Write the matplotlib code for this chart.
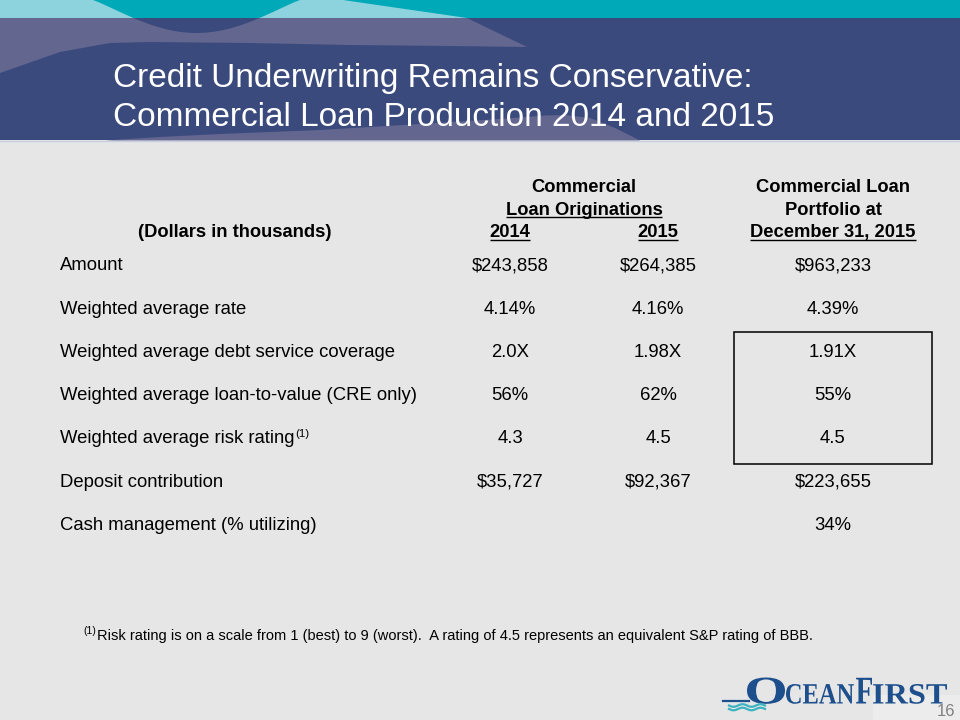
import matplotlib
matplotlib.use("Agg")
import matplotlib.pyplot as plt
from matplotlib.patches import Polygon, Rectangle, PathPatch
from matplotlib.textpath import TextPath
from matplotlib.font_manager import FontProperties
from matplotlib.transforms import Affine2D
import numpy as np

# ---------------- data ----------------
title_lines = ["Credit Underwriting Remains Conservative:",
               "Commercial Loan Production 2014 and 2015"]
units_label = "(Dollars in thousands)"
group_header_orig = ["Commercial", "Loan Originations"]
group_header_port = ["Commercial Loan", "Portfolio at", "December 31, 2015"]
col_years = ["2014", "2015"]
row_labels = ["Amount",
              "Weighted average rate",
              "Weighted average debt service coverage",
              "Weighted average loan-to-value (CRE only)",
              "Weighted average risk rating",
              "Deposit contribution",
              "Cash management (% utilizing)"]
label_notes = ["", "", "", "", "(1)", "", ""]
orig_2014 = ["$243,858", "4.14%", "2.0X", "56%", "4.3", "$35,727", ""]
orig_2015 = ["$264,385", "4.16%", "1.98X", "62%", "4.5", "$92,367", ""]
portfolio = ["$963,233", "4.39%", "1.91X", "55%", "4.5", "$223,655", "34%"]
boxed_rows = [2, 3, 4]
footnote_mark = "(1)"
footnote = ("Risk rating is on a scale from 1 (best) to 9 (worst).  "
            "A rating of 4.5 represents an equivalent S&P rating of BBB.")
logo_parts = [("O", True), ("CEAN", False), ("F", True), ("IRST", False)]
page_number = "16"

# ---------------- style ----------------
SANS = "Liberation Sans"
SERIF = "Liberation Serif"
NAVY = "#3b4a7d"
PURPLE = "#63668f"
TEAL = "#00a9b8"
LTEAL = "#8dd3dd"
BG = "#e6e6e6"
LOGO_BLUE = "#1d4f8d"
LOGO_TEAL = "#3db3c2"

fig = plt.figure(figsize=(9.6, 7.2), dpi=100, facecolor=BG)
ax = fig.add_axes([0, 0, 1, 1])
ax.set_xlim(0, 960)
ax.set_ylim(720, 0)
ax.axis("off")
ax.set_facecolor(BG)

# ---------------- header band ----------------
ax.add_patch(Rectangle((0, 0), 960, 140, color=NAVY, lw=0, zorder=1))
top_purple = [(0, 18), (467, 18), (527, 47), (450, 46), (350, 45), (250, 43),
              (150, 42), (110, 43), (60, 52), (0, 73)]
ax.add_patch(Polygon(top_purple, closed=True, color=PURPLE, lw=0, zorder=2))
bx = np.linspace(0, 1, 40)
bottom_wave = [(105, 140.5), (160, 137), (220, 134), (320, 130), (420, 124),
               (500, 119), (545, 115.5), (565, 115), (590, 118), (615, 128),
               (640, 140.5)]
ax.add_patch(Polygon(bottom_wave, closed=True, color=PURPLE, lw=0, zorder=2))
# bulge
xs = 93 + bx * 207
ys = 33 * np.sin(np.pi * bx) ** 1.1
bulge = list(zip(xs, ys))
ax.add_patch(Polygon(bulge, closed=True, color=NAVY, lw=0, zorder=3))
ax.add_patch(Rectangle((0, 0), 960, 18, color=TEAL, lw=0, zorder=4))
ax.add_patch(Polygon([(0, 0), (343, 0), (467, 18), (0, 18)], closed=True,
                     color=LTEAL, lw=0, zorder=5))
clip = Rectangle((0, 0), 960, 18, transform=ax.transData)
bp = Polygon(bulge, closed=True, color=TEAL, lw=0, zorder=6)
ax.add_patch(bp)
bp.set_clip_path(clip)
ax.plot([0, 960], [140.8, 140.8], color="#c9cde0", lw=1.0, zorder=7)

for i, line in enumerate(title_lines):
    ax.text(113, 87.5 + 38 * i, line, color="white", fontsize=24,
            family=SANS, va="baseline", ha="left", zorder=8)

# ---------------- table ----------------
fig.canvas.draw()
renderer = fig.canvas.get_renderer()
inv = ax.transData.inverted()


def extent(t):
    bb = t.get_window_extent(renderer)
    return bb.transformed(inv)


def underline(t, y):
    bb = extent(t)
    ax.plot([bb.x0, bb.x1], [y, y], color="black", lw=1.0,
            solid_capstyle="butt", zorder=9)


HB = [192.3, 214.6, 237.0]   # header baselines
c14, c15, cport, cgrp = 510, 658, 833, 584
hfs = 13.2
hkw = dict(fontsize=hfs, family=SANS, weight="bold", va="baseline",
           ha="center", color="black", parse_math=False)

ax.text(cgrp, HB[0], group_header_orig[0], **hkw)
t = ax.text(cgrp, HB[1], group_header_orig[1], **hkw)
underline(t, HB[1] + 2.8)
ax.text(235, HB[2], units_label, **hkw)
for cx, yr in zip([c14, c15], col_years):
    t = ax.text(cx, HB[2], yr, **hkw)
    underline(t, HB[2] + 2.8)
for j, s in enumerate(group_header_port):
    t = ax.text(cport, HB[j], s, **hkw)
    if j == 2:
        underline(t, HB[j] + 2.8)

tfs = 13.3
base0, dy = 270.3, 43.25
rkw = dict(fontsize=tfs, family=SANS, va="baseline", color="black",
           parse_math=False)
for i, lab in enumerate(row_labels):
    yb = base0 + dy * i
    t = ax.text(60, yb, lab, ha="left", **rkw)
    if label_notes[i]:
        bb = extent(t)
        ax.text(bb.x1 + 0.5, yb - 6.5, label_notes[i], ha="left",
                fontsize=tfs * 0.62, family=SANS, va="baseline",
                color="black")
    ax.text(c14, yb, orig_2014[i], ha="center", **rkw)
    ax.text(c15, yb, orig_2015[i], ha="center", **rkw)
    ax.text(cport, yb, portfolio[i], ha="center", **rkw)

# box around portfolio rows
ytop = base0 + dy * boxed_rows[0] - 24.5
ybot = base0 + dy * boxed_rows[-1] + 21
ax.add_patch(Rectangle((734, ytop), 932 - 734, ybot - ytop, fill=False,
                       ec="black", lw=1.1, zorder=9))

# ---------------- footnote ----------------
fm = ax.text(83.5, 634.5, footnote_mark, fontsize=7.5, family=SANS,
             va="baseline", ha="left", color="black")
fmb = extent(fm)
ax.text(fmb.x1 + 0.5, 640, footnote, fontsize=10.5, family=SANS,
        va="baseline", ha="left", color="black")

# ---------------- logo ----------------
ax.add_patch(Rectangle((873, 695), 87, 25, color="#ececec", lw=0, zorder=1))
fp = FontProperties(family=SERIF, weight="bold")
x = 747
widths = {"O": 38, "CEAN": 68, "F": 16, "IRST": 74}
heights = {True: 26, False: 19.5}
for s, big in logo_parts:
    tp = TextPath((0, 0), s, size=10, prop=fp)
    ext = tp.get_extents()
    w = widths[s]
    h = heights[big]
    sx = w / ext.width
    sy = h / 6.62
    tr = Affine2D().translate(-ext.x0, 0).scale(sx, -sy).translate(x, 703.5)
    ax.add_patch(PathPatch(tr.transform_path(tp), color=LOGO_BLUE, lw=0,
                           zorder=10))
    x += w + (2 if not big else 1)

# waves under the O
wx = np.linspace(0, 1, 60)
ax.plot(723 + wx * 26, 700.5 + 0 * wx, color=LOGO_BLUE, lw=1.6, zorder=10)
for y0 in (705.5, 709):
    ax.plot(729 + wx * 36, y0 + 1.3 * np.sin(wx * 4 * np.pi),
            color=LOGO_TEAL, lw=1.6, zorder=10)

ax.text(955, 715.5, page_number, fontsize=12, family=SANS, color="#808080",
        ha="right", va="baseline", zorder=11)

fig.savefig("out.png", dpi=100, facecolor=BG)
